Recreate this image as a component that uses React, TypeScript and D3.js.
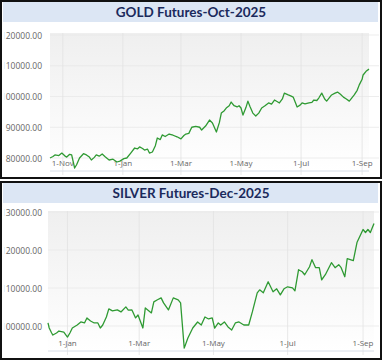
import React from 'react';
import * as d3 from 'd3';

// values (date, price)
const goldSeries: [string, number][] = [
  ['2024-10-19', 80000], ['2024-10-22', 80500], ['2024-10-24', 81000], ['2024-10-28', 80800],
  ['2024-10-31', 81600], ['2024-11-03', 80700], ['2024-11-05', 80300], ['2024-11-08', 81200],
  ['2024-11-10', 81000], ['2024-11-13', 76750], ['2024-11-15', 77800], ['2024-11-18', 80000],
  ['2024-11-22', 81400], ['2024-11-25', 81000], ['2024-11-28', 80300], ['2024-11-30', 79350],
  ['2024-12-03', 80200], ['2024-12-05', 81000], ['2024-12-08', 80600], ['2024-12-11', 81300],
  ['2024-12-14', 80400], ['2024-12-18', 79350], ['2024-12-22', 79600], ['2024-12-26', 78700],
  ['2024-12-29', 79000], ['2025-01-02', 79800], ['2025-01-05', 80000], ['2025-01-09', 81600],
  ['2025-01-13', 83250], ['2025-01-16', 83000], ['2025-01-18', 83600], ['2025-01-21', 83100],
  ['2025-01-23', 82600], ['2025-01-26', 82900], ['2025-01-28', 81600], ['2025-01-31', 81950],
  ['2025-02-03', 84000], ['2025-02-05', 86500], ['2025-02-08', 86000], ['2025-02-10', 87500],
  ['2025-02-13', 87000], ['2025-02-17', 87800], ['2025-02-21', 87400], ['2025-02-25', 86900],
  ['2025-03-01', 86200], ['2025-03-04', 87300], ['2025-03-06', 87800], ['2025-03-09', 88000],
  ['2025-03-12', 90000], ['2025-03-16', 90300], ['2025-03-20', 90000], ['2025-03-22', 89100],
  ['2025-03-26', 90400], ['2025-03-30', 92350], ['2025-04-02', 91400], ['2025-04-06', 88450],
  ['2025-04-09', 91500], ['2025-04-11', 94600], ['2025-04-14', 95400], ['2025-04-16', 96250],
  ['2025-04-19', 97000], ['2025-04-21', 98200], ['2025-04-24', 97000], ['2025-04-27', 96600],
  ['2025-04-29', 97000], ['2025-05-01', 96250], ['2025-05-03', 93950], ['2025-05-06', 96400],
  ['2025-05-08', 98500], ['2025-05-10', 96800], ['2025-05-13', 94600], ['2025-05-16', 93650],
  ['2025-05-19', 94600], ['2025-05-22', 96250], ['2025-05-25', 96900], ['2025-05-29', 97900],
  ['2025-06-01', 97500], ['2025-06-04', 98850], ['2025-06-07', 98300], ['2025-06-09', 97900],
  ['2025-06-12', 99200], ['2025-06-14', 101100], ['2025-06-18', 100500], ['2025-06-21', 100100],
  ['2025-06-23', 99800], ['2025-06-27', 96600], ['2025-06-30', 97200], ['2025-07-02', 97900],
  ['2025-07-05', 97600], ['2025-07-09', 97900], ['2025-07-12', 98100], ['2025-07-14', 98850],
  ['2025-07-17', 98700], ['2025-07-19', 99500], ['2025-07-22', 101100], ['2025-07-25', 99200],
  ['2025-07-27', 98500], ['2025-07-30', 99700], ['2025-08-01', 100500], ['2025-08-04', 101000],
  ['2025-08-07', 101450], ['2025-08-10', 100700], ['2025-08-13', 99800], ['2025-08-16', 99200],
  ['2025-08-19', 98500], ['2025-08-22', 99700], ['2025-08-24', 100500], ['2025-08-27', 102000],
  ['2025-08-29', 103700], ['2025-09-01', 105600], ['2025-09-02', 107000], ['2025-09-05', 108200],
  ['2025-09-08', 108900],
];

const silverSeries: [string, number][] = [
  ['2024-12-16', 100800], ['2024-12-17', 99470], ['2024-12-19', 98150], ['2024-12-20', 97620],
  ['2024-12-23', 98150], ['2024-12-25', 98680], ['2024-12-29', 98400], ['2025-01-01', 97090],
  ['2025-01-03', 98150], ['2025-01-05', 99470], ['2025-01-09', 100260], ['2025-01-12', 101060],
  ['2025-01-15', 100800], ['2025-01-17', 102120], ['2025-01-20', 101320], ['2025-01-23', 100800],
  ['2025-01-26', 100800], ['2025-01-28', 99470], ['2025-01-30', 100260], ['2025-02-02', 102380],
  ['2025-02-04', 104500], ['2025-02-07', 103970], ['2025-02-11', 104230], ['2025-02-14', 103700],
  ['2025-02-18', 105030], ['2025-02-20', 104200], ['2025-02-23', 104230], ['2025-02-26', 102120],
  ['2025-02-28', 102900], ['2025-03-04', 99470], ['2025-03-06', 104760], ['2025-03-11', 103440],
  ['2025-03-13', 106350], ['2025-03-16', 106900], ['2025-03-19', 107400], ['2025-03-21', 106080],
  ['2025-03-25', 104230], ['2025-03-29', 107400], ['2025-04-02', 106880], ['2025-04-04', 106080],
  ['2025-04-07', 94180], ['2025-04-10', 96830], ['2025-04-14', 99470], ['2025-04-18', 101060],
  ['2025-04-21', 100260], ['2025-04-24', 102380], ['2025-04-27', 101850], ['2025-04-30', 102120],
  ['2025-05-02', 99470], ['2025-05-05', 100800], ['2025-05-07', 100260], ['2025-05-10', 101060],
  ['2025-05-13', 99740], ['2025-05-16', 98940], ['2025-05-19', 100800], ['2025-05-22', 101060],
  ['2025-05-26', 100260], ['2025-05-30', 100260], ['2025-06-02', 103700], ['2025-06-06', 108730],
  ['2025-06-08', 109520], ['2025-06-11', 108730], ['2025-06-15', 111640], ['2025-06-19', 108990],
  ['2025-06-22', 109790], ['2025-06-25', 108200], ['2025-06-28', 109790], ['2025-07-01', 110320],
  ['2025-07-05', 110050], ['2025-07-07', 109260], ['2025-07-10', 114810], ['2025-07-13', 114280],
  ['2025-07-15', 113490], ['2025-07-19', 115600], ['2025-07-21', 117460], ['2025-07-24', 115340],
  ['2025-07-27', 115340], ['2025-07-29', 112170], ['2025-08-01', 113490], ['2025-08-06', 116660],
  ['2025-08-09', 115340], ['2025-08-12', 116130], ['2025-08-14', 115340], ['2025-08-17', 112960],
  ['2025-08-19', 117720], ['2025-08-24', 117190], ['2025-08-27', 121950], ['2025-09-01', 125390],
  ['2025-09-03', 124600], ['2025-09-05', 125390], ['2025-09-07', 124600], ['2025-09-10', 126980],
];

const goldTicks = [80000, 90000, 100000, 110000, 120000];
const silverTicks = [100000, 110000, 120000, 130000];
const goldMonths = ['2024-11-01', '2025-01-01', '2025-03-01', '2025-05-01', '2025-07-01', '2025-09-01'];
const silverMonths = ['2025-01-01', '2025-03-01', '2025-05-01', '2025-07-01', '2025-09-01'];

const parse = d3.timeParse('%Y-%m-%d');
const fmtMonth = d3.timeFormat('1-%b');

interface PanelProps {
  id: string;
  title: string;
  series: [string, number][];
  ticks: number[];
  months: string[];
  top: number;
  plot: { left: number; right: number; top: number; bottom: number };
  yRange: [number, number, number, number]; // [v0, y0, v1, y1]
}

const Panel: React.FC<PanelProps> = ({ id, title, series, ticks, months, top, plot, yRange }) => {
  const data = series.map(([d, v]) => ({ date: parse(d) as Date, value: v }));
  const x = d3.scaleTime()
    .domain(d3.extent(data, d => d.date) as [Date, Date])
    .range([plot.left, plot.right]);
  const y = d3.scaleLinear().domain([yRange[0], yRange[2]]).range([yRange[1], yRange[3]]);
  const line = d3.line<{ date: Date; value: number }>()
    .x(d => x(d.date))
    .y(d => y(d.value))
    .curve(d3.curveLinear);
  const fmt = d3.format('.2f');

  return (
    <g transform={`translate(0,${top})`}>
      <defs>
        <linearGradient id={`bg-${id}`} x1="0" y1="0" x2="0" y2="1">
          <stop offset="0" stopColor="#efefef" />
          <stop offset="1" stopColor="#ffffff" />
        </linearGradient>
        <clipPath id={`lab-${id}`}>
          <rect x={4.5} y={0} width={50} height={200} />
        </clipPath>
      </defs>
      <rect x={1} y={1} width={380} height={177} fill="#fff" stroke="#111" strokeWidth={2} />
      <rect x={3} y={2} width={375} height={20} fill="#dce6f4" />
      <text x={191} y={12} textAnchor="middle" dominantBaseline="central"
        fontFamily="Lato, 'Noto Sans', sans-serif" fontWeight={700} fontSize={13.5} fill="#1b2a5c">
        {title}
      </text>
      <rect x={plot.left} y={plot.top} width={plot.right - plot.left} height={plot.bottom - plot.top}
        fill={`url(#bg-${id})`} />
      {ticks.map(t => (
        <line key={t} x1={plot.left} x2={379} y1={y(t)} y2={y(t)} stroke="#e9e9e9" strokeWidth={0.8} />
      ))}
      {months.map(m => {
        const xm = x(parse(m) as Date);
        return (
          <g key={m}>
            <line x1={xm} x2={xm} y1={plot.top} y2={plot.bottom + 4} stroke="#e2e2e2" strokeWidth={0.8} />
            <text x={xm} y={plot.bottom - 5} textAnchor="middle" fontFamily="'Open Sans', sans-serif"
              fontSize={8} fill="#666">{fmtMonth(parse(m) as Date)}</text>
          </g>
        );
      })}
      <line x1={plot.left} x2={plot.right} y1={plot.bottom} y2={plot.bottom} stroke="#d8dee8" strokeWidth={1} />
      <g clipPath={`url(#lab-${id})`}>
        {ticks.map(t => (
          <text key={t} x={42} y={y(t)} textAnchor="end" dominantBaseline="central"
            fontFamily="'Open Sans', sans-serif" fontSize={8.5} fill="#666">{fmt(t)}</text>
        ))}
      </g>
      <path d={line(data) || ''} fill="none" stroke="#2f9a33" strokeWidth={1.3} strokeLinejoin="round" />
    </g>
  );
};

export default function App() {
  return (
    <div>
      <style>{'body{margin:0;background:#fff}'}</style>
      <svg width={383} height={362} style={{ display: 'block' }}>
        <Panel id="gold" title="GOLD Futures-Oct-2025" series={goldSeries} ticks={goldTicks}
          months={goldMonths} top={0}
          plot={{ left: 50, right: 369, top: 33, bottom: 171 }}
          yRange={[80000, 158, 120000, 35]} />
        <Panel id="silver" title="SILVER Futures-Dec-2025" series={silverSeries} ticks={silverTicks}
          months={silverMonths} top={181}
          plot={{ left: 48, right: 374, top: 30, bottom: 170 }}
          yRange={[100000, 145, 130000, 31]} />
      </svg>
    </div>
  );
}
